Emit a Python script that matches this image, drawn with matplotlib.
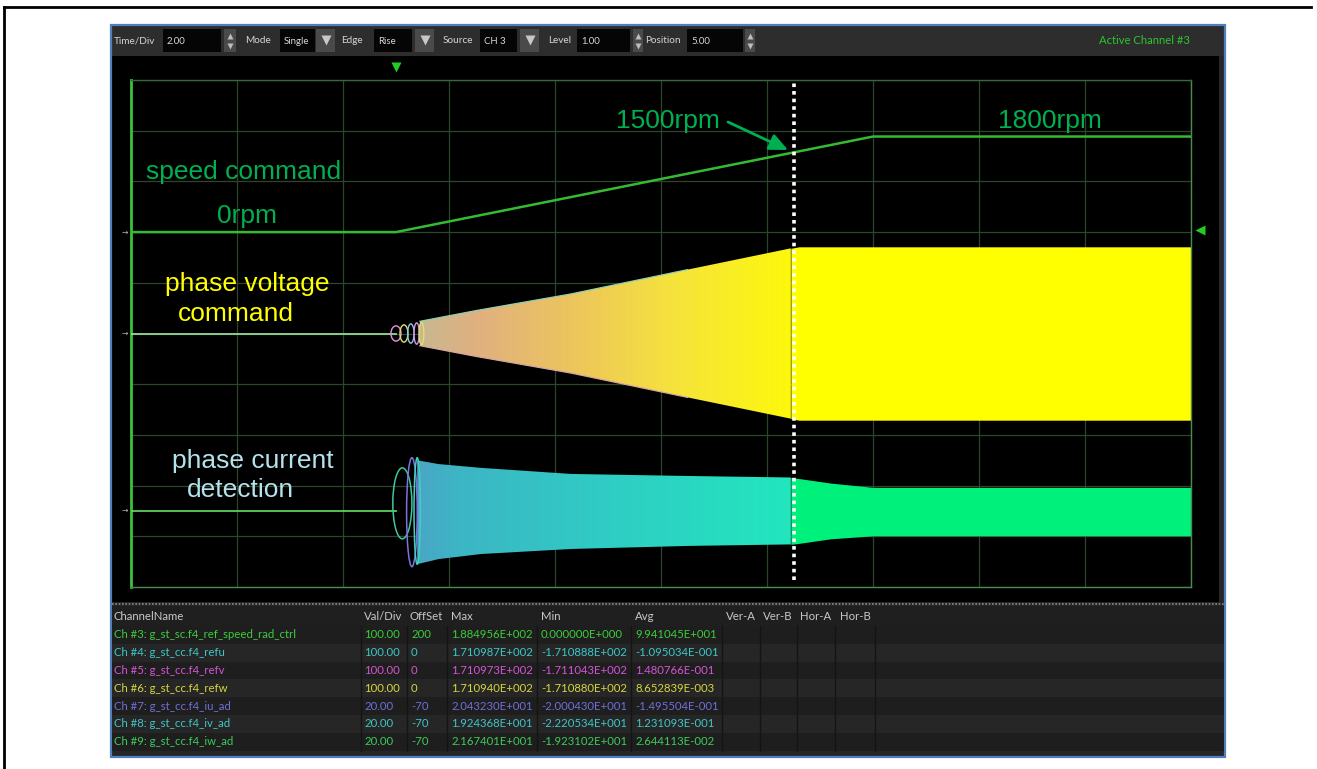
import numpy as np
import matplotlib
matplotlib.use("Agg")
import matplotlib.pyplot as plt
from matplotlib.patches import Rectangle, Polygon, Ellipse
from matplotlib.colors import LinearSegmentedColormap

W, H = 1317, 769

# ---- scope data (time in s, Time/Div = 2.00) ----
speed_t = [0.0, 5.0, 14.0, 20.0]
speed_val = [0.0, 0.0, 188.5, 188.5]          # ch3, rad/s

# phase voltage command envelope (ch4..6), V
volt_t = [5.45, 6.5, 8.3, 10.5, 12.45, 12.6, 20.0]
volt_amp = [24, 45, 78, 126, 168, 171, 171]
# small start-up loops of the voltage channels
volt_loop_t = [5.0, 5.15, 5.28, 5.39, 5.48]
volt_loop_w = [0.19, 0.15, 0.12, 0.10, 0.09]
volt_loop_a = [15, 17, 19, 21, 22]

# phase current detection envelope (ch7..9), A
cur_t = [5.4, 5.8, 6.6, 8.3, 10.5, 12.45, 12.6, 13.2, 14.0, 20.0]
cur_hi = [20, 18.5, 17, 14.6, 13.8, 13.2, 12.8, 11.0, 9.3, 9.3]
cur_lo = [-21, -19, -17, -15, -13.8, -13.2, -12.8, -11.0, -9.8, -9.8]
cur_loop_t = [5.12, 5.30, 5.40]
cur_loop_w = [0.36, 0.20, 0.12]
cur_loop_hi = [17, 21, 21]
cur_loop_lo = [-11, -22, -21]

cursor_t = 12.5

# ---- channel table ----
ch_names = ["Ch #3: g_st_sc.f4_ref_speed_rad_ctrl", "Ch #4: g_st_cc.f4_refu",
            "Ch #5: g_st_cc.f4_refv", "Ch #6: g_st_cc.f4_refw",
            "Ch #7: g_st_cc.f4_iu_ad", "Ch #8: g_st_cc.f4_iv_ad",
            "Ch #9: g_st_cc.f4_iw_ad"]
ch_valdiv = ["100.00", "100.00", "100.00", "100.00", "20.00", "20.00", "20.00"]
ch_offset = ["200", "0", "0", "0", "-70", "-70", "-70"]
ch_max = ["1.884956E+002", "1.710987E+002", "1.710973E+002", "1.710940E+002",
          "2.043230E+001", "1.924368E+001", "2.167401E+001"]
ch_min = ["0.000000E+000", "-1.710888E+002", "-1.711043E+002", "-1.710880E+002",
          "-2.000430E+001", "-2.220534E+001", "-1.923102E+001"]
ch_avg = ["9.941045E+001", "-1.095034E-001", "1.480766E-001", "8.652839E-003",
          "-1.495504E-001", "1.231093E-001", "2.644113E-002"]
ch_colors = ["#3ccc3c", "#3ec6c6", "#d455d4", "#d6d640", "#6f6fd6", "#3ec6c6", "#3ccc5a"]
headers = ["ChannelName", "Val/Div", "OffSet", "Max", "Min", "Avg",
           "Ver-A", "Ver-B", "Hor-A", "Hor-B"]

tool_labels = ["Time/Div", "Mode", "Edge", "Source", "Level", "Position"]
tool_values = ["2.00", "Single", "Rise", "CH 3", "1.00", "5.00"]

UI = "Lato"
ARIAL = "Liberation Sans"

fig = plt.figure(figsize=(W / 100, H / 100), dpi=100, facecolor="white")
bg = fig.add_axes([0, 0, 1, 1])
bg.set_xlim(0, W); bg.set_ylim(H, 0); bg.axis("off"); bg.set_zorder(0)

# document frame
bg.plot([4, 1311], [7, 7], color="black", lw=2)
bg.plot([4, 4], [7, H], color="black", lw=2)

# screenshot panel
bg.add_patch(Rectangle((111, 25), 1114, 732, fc="#262626", ec="none"))
bg.add_patch(Rectangle((111, 25), 1114, 31, fc="#2d2d2d", ec="none"))
bg.add_patch(Rectangle((112, 56), 1107, 546, fc="black", ec="none"))
bg.add_patch(Rectangle((111, 25), 1114, 732, fc="none", ec="#4f7fbf", lw=1.6))
bg.plot([112, 1224], [603.5, 603.5], color="#8a8a8a", lw=1.2, ls=(0, (1, 1)))

# toolbar
lab_x = [114, 245, 341, 443, 548, 645]
box_x = [(163, 221), (280, 315), (374, 412), (480, 517), (577, 630), (687, 743)]
btn_x = [(224, 236), (316, 335), (415, 434), (520, 539), (633, 643), (745, 755)]
spin = [True, False, False, False, True, True]
for i, lab in enumerate(tool_labels):
    bg.text(lab_x[i], 40.5, lab, fontsize=7.2, color="#d4d4d4", family=UI, va="center")
    x0, x1 = box_x[i]
    bg.add_patch(Rectangle((x0, 29), x1 - x0, 23, fc="#050505", ec="none"))
    bg.text(x0 + 4, 41, tool_values[i], fontsize=6.9, color="#d8d8d8", family=UI, va="center")
    b0, b1 = btn_x[i]
    bg.add_patch(Rectangle((b0, 29), b1 - b0, 23, fc="#4a4a4a", ec="none"))
    cx = (b0 + b1) / 2
    if spin[i]:
        bg.plot(cx, 35.5, marker="^", ms=4, color="#bdbdbd", mec="none")
        bg.plot(cx, 46, marker="v", ms=4, color="#bdbdbd", mec="none")
    else:
        bg.plot(cx, 40, marker="v", ms=7, color="#c8c8c8", mec="none")
bg.text(1190, 41, "Active Channel #3", fontsize=8.1, color="#2ec42e", family=UI,
        va="center", ha="right")

# table
row_h = 17.8
bg.add_patch(Rectangle((112, 606), 1112, 20, fc="#1f1f1f", ec="none"))
hdr_x = [114, 364, 410, 451, 541, 635, 726, 763, 800, 840]
for hx, hname in zip(hdr_x, headers):
    bg.text(hx, 617, hname, fontsize=8.2, color="#c8c8c8", family=UI, va="center")
for i in range(len(ch_names)):
    y0 = 626 + i * row_h
    bg.add_patch(Rectangle((112, y0), 1112, row_h, fc="#1e1e1e" if i % 2 == 0 else "#262626",
                           ec="none"))
    yc = y0 + row_h / 2
    c = ch_colors[i]
    for x, s in zip([114, 364, 411, 451, 541, 635],
                    [ch_names[i], ch_valdiv[i], ch_offset[i], ch_max[i], ch_min[i], ch_avg[i]]):
        bg.text(x, yc, s, fontsize=8.2, color=c, family=UI, va="center")
for sx in [361, 407, 447, 537, 631, 722, 760, 797, 835, 875]:
    bg.plot([sx, sx], [626, 626 + 7 * row_h], color="#141414", lw=1)

# ---- scope axes ----
sc = fig.add_axes([131 / W, 1 - 587 / H, 1060 / W, 507 / H])
sc.set_zorder(1)
sc.patch.set_visible(False)


def to_div(v, valdiv, offset):
    return (np.asarray(v, dtype=float) + offset) / valdiv


for t in range(0, 21, 2):
    sc.axvline(t, color="#2c462c", lw=0.9, zorder=0)
for d in range(-5, 6):
    sc.axhline(d, color="#2c462c", lw=0.9, zorder=0)
for side, col, lw in [("left", "#3cbf3c", 2.0), ("top", "#3a663a", 1.0),
                      ("right", "#4a8c4a", 1.0), ("bottom", "#4a8c4a", 1.0)]:
    sc.spines[side].set_color(col)
    sc.spines[side].set_linewidth(lw)
sc.set_xticks([]); sc.set_yticks([])


def gradient(ax, t, hi, lo, stops):
    t = np.asarray(t); hi = np.asarray(hi); lo = np.asarray(lo)
    poly = Polygon(np.column_stack([np.r_[t, t[::-1]], np.r_[hi, lo[::-1]]]),
                   closed=True, fc="none", ec="none")
    ax.add_patch(poly)
    cmap = LinearSegmentedColormap.from_list("g", stops)
    im = ax.imshow(np.linspace(0, 1, 512)[None, :], cmap=cmap, aspect="auto",
                   extent=(t[0], t[-1], lo.min() - 0.1, hi.max() + 0.1),
                   interpolation="nearest", origin="lower", zorder=2)
    im.set_clip_path(poly)


# phase voltage command (valdiv 100, offset 0)
vd = 100.0
sc.plot([0, 5.0], [0, 0], color="#96d896", lw=1.3, zorder=3)
va = to_div(volt_amp, vd, 0)
nv = 5  # growing part ends at index 4 (cursor)
gradient(sc, volt_t[:nv], va[:nv], -va[:nv],
         [(0.0, "#c8b890"), (0.15, "#e0b080"), (0.4, "#ecc45e"),
          (0.7, "#f6e43a"), (1.0, "#fdf80c")])
sc.fill_between(volt_t[nv - 1:], -va[nv - 1:], va[nv - 1:], color="#ffff00", lw=0, zorder=2)
sc.plot(volt_t[:4], va[:4], color="#8fd0b4", lw=0.9, zorder=3)
sc.plot(volt_t[:4], -va[:4], color="#d8a8a0", lw=0.9, zorder=3)
loop_cols = ["#e890e0", "#e6dc70", "#80d0e0", "#d890e8", "#e6dc70"]
for lt, lw_, la, lc in zip(volt_loop_t, volt_loop_w, volt_loop_a, loop_cols):
    h = 2 * la / vd
    sc.add_patch(Ellipse((lt, 0), lw_, h, fc="none", ec=lc, lw=1.0, zorder=3))

# phase current detection (valdiv 20, offset -70)
cd, co = 20.0, -70.0
sc.plot([0, 5.0], to_div([0, 0], cd, co), color="#5ccf5c", lw=1.3, zorder=3)
nc = 6
gradient(sc, cur_t[:nc], to_div(cur_hi[:nc], cd, co), to_div(cur_lo[:nc], cd, co),
         [(0.0, "#4aa6c6"), (0.12, "#3cb6c4"), (0.5, "#30ccc4"), (1.0, "#22e6be")])
sc.fill_between(cur_t[nc - 1:], to_div(cur_lo[nc - 1:], cd, co),
                to_div(cur_hi[nc - 1:], cd, co), color="#00f07c", lw=0, zorder=2)
cl_cols = ["#3cc8a0", "#8070e0", "#40d0c0"]
for lt, lw_, lh, ll, lc in zip(cur_loop_t, cur_loop_w, cur_loop_hi, cur_loop_lo, cl_cols):
    yh, yl = to_div([lh, ll], cd, co)
    sc.add_patch(Ellipse((lt, (yh + yl) / 2), lw_, yh - yl, fc="none", ec=lc, lw=1.1, zorder=3))

# speed command (valdiv 100, offset 200)
sc.plot(speed_t, to_div(speed_val, 100.0, 200.0), color="#33bb33", lw=1.8, zorder=4)

# cursor
sc.axvline(cursor_t, ymin=0.014, ymax=0.994, color="white", lw=2.6,
           ls=(0, (1, 1.1)), zorder=5)

sc.set_xlim(0, 20)
sc.set_ylim(-5, 5)

# ---- overlay: markers and annotations ----
ov = fig.add_axes([0, 0, 1, 1])
ov.set_xlim(0, W); ov.set_ylim(H, 0); ov.axis("off"); ov.set_zorder(2)
ov.patch.set_visible(False)
ov.plot(396, 67, marker="v", ms=7, color="#22cc22", mec="none")
ov.plot(1200, 230, marker="<", ms=7, color="#22cc22", mec="none")
for yy in [232, 333, 510]:
    ov.text(125, yy, "\u2192", fontsize=5.5, color="#a8b8a8", ha="center", va="center",
            family="DejaVu Sans")

green = "#00b050"
ov.text(146, 179, "speed command", fontsize=19, color=green, family=ARIAL, va="baseline")
ov.text(217, 223, "0rpm", fontsize=19, color=green, family=ARIAL, va="baseline")
ov.text(165, 291, "phase voltage", fontsize=19, color="#ffff00", family=ARIAL, va="baseline")
ov.text(178, 321, "command", fontsize=19, color="#ffff00", family=ARIAL, va="baseline")
ov.text(172, 468, "phase current", fontsize=19, color="#b4e2ea", family=ARIAL, va="baseline")
ov.text(187, 497, "detection", fontsize=19, color="#b4e2ea", family=ARIAL, va="baseline")
ov.text(616, 128, "1500rpm", fontsize=19, color=green, family=ARIAL, va="baseline")
ov.text(998, 128, "1800rpm", fontsize=19, color=green, family=ARIAL, va="baseline")
ov.annotate("", xy=(788, 150), xytext=(728, 122),
            arrowprops=dict(arrowstyle="-|>,head_length=1.1,head_width=0.5",
                            color=green, lw=2, shrinkA=0, shrinkB=0))

fig.savefig("out.png", dpi=100, facecolor="white")
